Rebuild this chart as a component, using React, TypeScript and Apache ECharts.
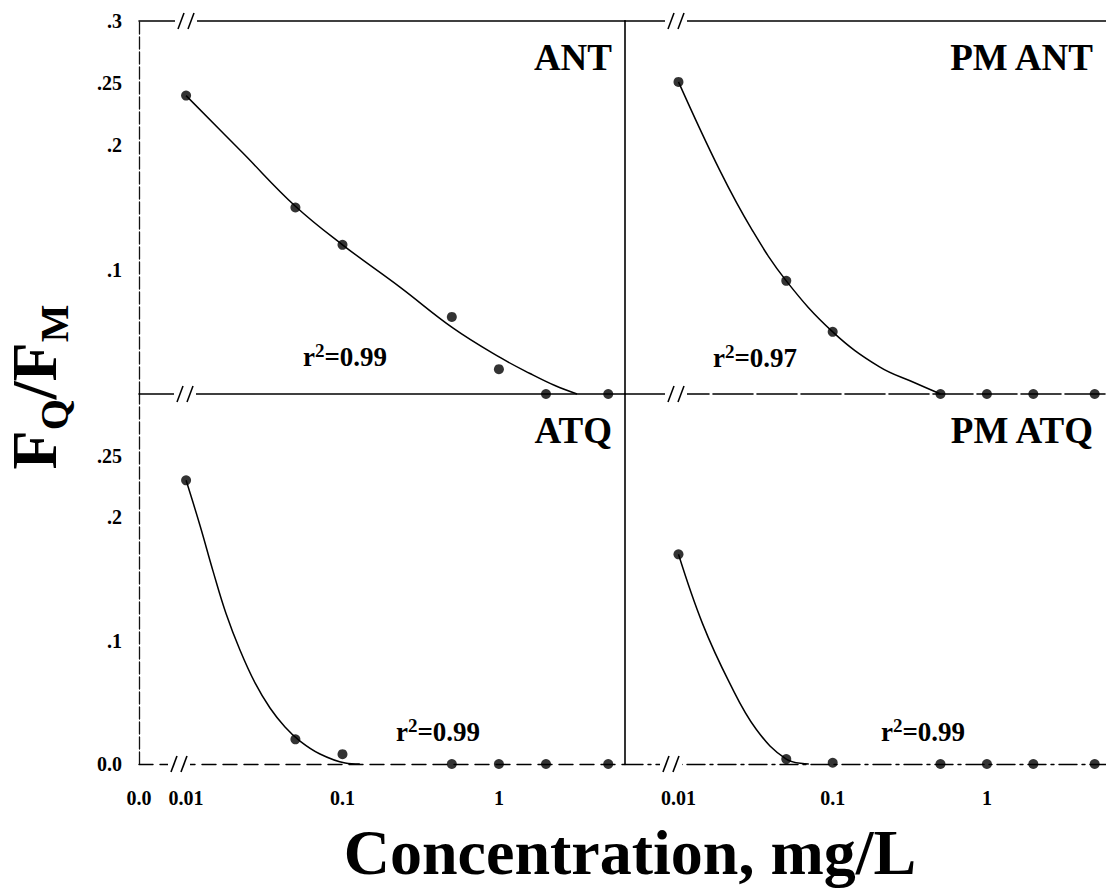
import React, { useEffect, useRef } from "react";
import * as echarts from "echarts";

// ---- tick labels ----
const xTickValues = [0.01, 0.1, 1];
const xTickLabels = ["0.01", "0.1", "1"];
const xZeroLabel = "0.0";

const yTopTickValues = [0.1, 0.2, 0.25, 0.3];
const yTopTickLabels = [".1", ".2", ".25", ".3"];
const yBottomTickValues = [0, 0.1, 0.2, 0.25];
const yBottomTickLabels = ["0.0", ".1", ".2", ".25"];

// ---- measured points (concentration, mg/L) ----
const concentrations = [0.01, 0.05, 0.1, 0.5, 1, 2, 5];
const antValues = [0.24, 0.15, 0.12, 0.062, 0.02, 0, 0];
const pmAntValues = [0.251, 0.091, 0.05, 0, 0, 0, 0];
const atqValues = [0.23, 0.02, 0.008, 0, 0, 0, 0];
const pmAtqValues = [0.17, 0.004, 0.001, 0, 0, 0, 0];

// ---- fitted curves ----
const antCurveX = [0.01, 0.023, 0.05, 0.1, 0.233, 0.51, 1.03, 1.58, 2.28, 3.16];
const antCurveY = [0.24, 0.194, 0.151, 0.12, 0.086, 0.053, 0.029, 0.0165, 0.0068, 0];
const pmAntCurveX = [0.01, 0.0185, 0.03, 0.05, 0.1, 0.2, 0.34, 0.5];
const pmAntCurveY = [0.251, 0.18, 0.132, 0.091, 0.05, 0.022, 0.009, 0];
const atqCurveX = [0.01, 0.0123, 0.0149, 0.018, 0.0221, 0.0276, 0.0344, 0.0429, 0.0535, 0.0718, 0.104, 0.129];
const atqCurveY = [0.23, 0.193, 0.156, 0.122, 0.0924, 0.0657, 0.0454, 0.03, 0.0186, 0.0081, 0.0008, 0];
const pmAtqCurveX = [0.01, 0.0143, 0.0214, 0.032, 0.05, 0.07];
const pmAtqCurveY = [0.17, 0.114, 0.066, 0.028, 0.004, 0];

const panelTitles = ["ANT", "PM ANT", "ATQ", "PM ATQ"];
const r2Values = ["0.99", "0.97", "0.99", "0.99"];

const FONT = "Liberation Serif";

const leftMin = 0.005;
const leftMax = 6.4;
const rightMin = 0.0045;
const rightMax = 5.92;

const pairs = (xs: number[], ys: number[]) => xs.map((x, i) => [x, ys[i]]);

const lookup = (vals: number[], labels: string[]) => (v: number) => {
  const i = vals.findIndex((t) => Math.abs(t - v) < 1e-9 + Math.abs(t) * 1e-6);
  return i >= 0 ? labels[i] : "";
};

function measure(text: string, font: string): number {
  const c = document.createElement("canvas").getContext("2d");
  if (!c) return text.length * 30;
  c.font = font;
  return c.measureText(text).width;
}

export default function App() {
  const ref = useRef<HTMLDivElement>(null);

  useEffect(() => {
    if (!ref.current) return;
    const chart = echarts.init(ref.current, null, { renderer: "svg" });

    const labelStyle = {
      fontFamily: FONT,
      fontWeight: "bold" as const,
      fontSize: 20,
      color: "#000",
    };

    const grids = [
      { left: 139, top: 21, width: 486, height: 373 },
      { left: 625, top: 21, width: 481, height: 373 },
      { left: 139, top: 394, width: 486, height: 370 },
      { left: 625, top: 394, width: 481, height: 370 },
    ];

    const solid = { color: "#000", width: 1.6 };
    const xAxisBase = (gi: number, min: number, max: number, extra: any) => ({
      type: "log",
      logBase: 10,
      gridIndex: gi,
      min,
      max,
      axisTick: { show: false },
      splitLine: { show: false },
      ...extra,
    });

    const xLabelFmt = lookup(xTickValues, xTickLabels);

    const xAxes = [
      xAxisBase(0, leftMin, leftMax, {
        axisLabel: { show: false },
        axisLine: { lineStyle: solid },
      }),
      xAxisBase(1, rightMin, rightMax, {
        axisLabel: { show: false },
        axisLine: { lineStyle: { ...solid, type: [40, 4] } },
      }),
      xAxisBase(2, leftMin, leftMax, {
        axisLine: { lineStyle: { color: "#000", width: 1.4, type: [14, 7] } },
        axisLabel: {
          ...labelStyle,
          margin: 24,
          showMinLabel: true,
          showMaxLabel: false,
          formatter: (v: number) =>
            Math.abs(Math.log10(v) - Math.log10(leftMin)) < 1e-6 ? xZeroLabel : xLabelFmt(v),
        },
      }),
      xAxisBase(3, rightMin, rightMax, {
        axisLine: { lineStyle: { color: "#000", width: 1.4, type: [18, 5, 3, 5] } },
        axisLabel: {
          ...labelStyle,
          margin: 24,
          showMinLabel: false,
          showMaxLabel: false,
          formatter: (v: number) => xLabelFmt(v),
        },
      }),
      xAxisBase(0, leftMin, leftMax, {
        position: "top",
        axisLabel: { show: false },
        axisLine: { lineStyle: solid },
      }),
      xAxisBase(1, rightMin, rightMax, {
        position: "top",
        axisLabel: { show: false },
        axisLine: { lineStyle: solid },
      }),
    ];

    const yAxisBase = (gi: number, extra: any) => ({
      type: "value",
      gridIndex: gi,
      min: 0,
      max: 0.3,
      interval: 0.05,
      axisTick: { show: false },
      splitLine: { show: false },
      ...extra,
    });

    const yAxes = [
      yAxisBase(0, {
        axisLine: { lineStyle: { color: "#111", width: 1.3, type: [12, 3] } },
        axisLabel: {
          ...labelStyle,
          margin: 17,
          formatter: lookup(yTopTickValues, yTopTickLabels),
        },
      }),
      yAxisBase(1, { axisLine: { lineStyle: solid }, axisLabel: { show: false } }),
      yAxisBase(2, {
        axisLine: { lineStyle: { color: "#111", width: 1.3, type: [12, 3] } },
        axisLabel: {
          ...labelStyle,
          margin: 17,
          formatter: lookup(yBottomTickValues, yBottomTickLabels),
        },
      }),
      yAxisBase(3, { axisLine: { lineStyle: solid }, axisLabel: { show: false } }),
    ];

    const curves = [
      pairs(antCurveX, antCurveY),
      pairs(pmAntCurveX, pmAntCurveY),
      pairs(atqCurveX, atqCurveY),
      pairs(pmAtqCurveX, pmAtqCurveY),
    ];
    const points = [
      pairs(concentrations, antValues),
      pairs(concentrations, pmAntValues),
      pairs(concentrations, atqValues),
      pairs(concentrations, pmAtqValues),
    ];

    const series: any[] = [];
    for (let i = 0; i < 4; i++) {
      series.push({
        type: "line",
        name: panelTitles[i] + " fit",
        xAxisIndex: i,
        yAxisIndex: i,
        data: curves[i],
        smooth: 0.4,
        showSymbol: false,
        symbol: "none",
        lineStyle: { color: "#000", width: 1.5 },
        clip: false,
        z: 3,
      });
      series.push({
        type: "scatter",
        name: panelTitles[i],
        xAxisIndex: i,
        yAxisIndex: i,
        data: points[i],
        symbol: "circle",
        symbolSize: 10,
        itemStyle: { color: "#000" },
        clip: false,
        z: 4,
      });
    }

    const titlePos = [
      [612, 57],
      [1093, 57],
      [612, 430],
      [1093, 430],
    ];
    const r2Pos = [
      [345, 357],
      [755, 358],
      [438, 732],
      [923, 732],
    ];

    const titleTexts = panelTitles.map((t, i) => ({
      type: "text",
      x: titlePos[i][0],
      y: titlePos[i][1],
      z: 100,
      style: {
        text: t,
        font: `bold 37px "${FONT}"`,
        fill: "#000",
        align: "right",
        verticalAlign: "middle",
      },
    }));

    const r2Texts = r2Values.map((v, i) => ({
      type: "text",
      x: r2Pos[i][0],
      y: r2Pos[i][1],
      z: 100,
      style: {
        text: `{r|r}{s|2}{r|=${v}}`,
        align: "center",
        verticalAlign: "middle",
        fill: "#000",
        rich: {
          r: { fontFamily: FONT, fontWeight: "bold", fontSize: 27, lineHeight: 32 },
          s: { fontFamily: FONT, fontWeight: "bold", fontSize: 19, verticalAlign: "top", lineHeight: 20 },
        },
      },
    }));

    const breakMark = (cx: number, cy: number) => ({
      type: "group",
      z: 100,
      children: [
        {
          type: "rect",
          shape: { x: cx - 11, y: cy - 3, width: 22, height: 6 },
          style: { fill: "#fff" },
          z: 100,
        },
        {
          type: "line",
          shape: { x1: cx - 8, y1: cy + 8, x2: cx - 2, y2: cy - 8 },
          style: { stroke: "#000", lineWidth: 1.6 },
          z: 101,
        },
        {
          type: "line",
          shape: { x1: cx + 2, y1: cy + 8, x2: cx + 8, y2: cy - 8 },
          style: { stroke: "#000", lineWidth: 1.6 },
          z: 101,
        },
      ],
    });

    const breaks = [
      breakMark(186, 21),
      breakMark(185, 394),
      breakMark(179, 764),
      breakMark(676, 21),
      breakMark(676, 394),
      breakMark(671, 764),
    ];

    // y-axis title F_Q / F_M, laid out in a rotated group
    const bigFont = `bold 64px "${FONT}"`;
    const subFont = `bold 40px "${FONT}"`;
    const yTitleParts = [
      { t: "F", sub: false },
      { t: "Q", sub: true },
      { t: "/F", sub: false },
      { t: "M", sub: true },
    ];
    const widths = yTitleParts.map((p) => measure(p.t, p.sub ? subFont : bigFont));
    const total = widths.reduce((a, b) => a + b, 0);
    let cursor = -total / 2;
    const yTitleChildren = yTitleParts.map((p, i) => {
      const el = {
        type: "text",
        x: cursor,
        y: p.sub ? 20 : 0,
        style: {
          text: p.t,
          font: p.sub ? subFont : bigFont,
          fill: "#000",
          align: "left",
          verticalAlign: "middle",
        },
      };
      cursor += widths[i];
      return el;
    });

    const axisTitles = [
      {
        type: "group",
        x: 34,
        y: 387,
        rotation: Math.PI / 2,
        z: 100,
        children: yTitleChildren,
      },
      {
        type: "text",
        x: 630,
        y: 852,
        z: 100,
        style: {
          text: "Concentration, mg/L",
          font: `bold 64px "${FONT}"`,
          fill: "#000",
          align: "center",
          verticalAlign: "middle",
        },
      },
    ];

    chart.setOption({
      animation: false,
      backgroundColor: "#fff",
      grid: grids,
      xAxis: xAxes,
      yAxis: yAxes,
      series,
      graphic: [...breaks, ...titleTexts, ...r2Texts, ...axisTitles],
    });

    return () => chart.dispose();
  }, []);

  return (
    <div
      ref={ref}
      style={{ position: "absolute", left: 0, top: 0, width: 1106, height: 888, background: "#fff" }}
    />
  );
}
